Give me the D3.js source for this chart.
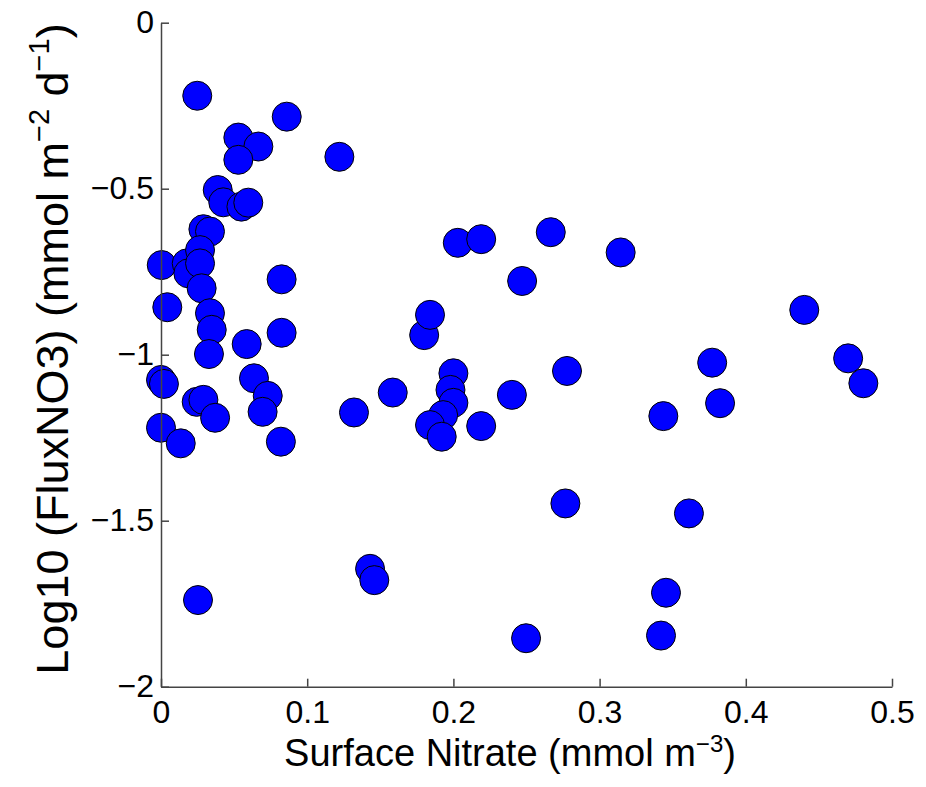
<!DOCTYPE html>
<html>
<head>
<meta charset="utf-8">
<script src="https://cdn.jsdelivr.net/npm/d3@7"></script>
<style>
  body { margin: 0; background: #fff; }
  text { font-family: "Liberation Sans", Arial, Helvetica, sans-serif; fill: #000; }
  .axis path, .axis line { stroke: #444; stroke-width: 1.5; }
</style>
</head>
<body>
<svg id="chart" width="926" height="787"></svg>
<script>
// surface nitrate (mmol m^-3) and log10 nitrate flux
const nitrate = [
  0.0248, 0.086, 0.0529, 0.0666, 0.0529, 0.122, 0.0388, 0.0426, 0.055, 0.0597,
  0.029, 0.0335, 0.0005, 0.0176, 0.0187, 0.0267, 0.0267, 0.0278, 0.0043, 0.0335,
  0.0347, 0.0328, 0.0825, 0.0825, 0.0586, 0.0, 0.002, 0.0244, 0.029, 0.037,
  0.0636, 0.073, 0.0695, 0.082, 0.0, 0.0135, 0.0253, 0.132, 0.1585, 0.180,
  0.184, 0.200, 0.198, 0.200, 0.193, 0.184, 0.192, 0.219, 0.240, 0.203,
  0.219, 0.247, 0.2666, 0.3144, 0.2777, 0.2766, 0.143, 0.1459, 0.2497, 0.3611,
  0.3454, 0.342, 0.3436, 0.377, 0.3824, 0.440, 0.470, 0.4804
];
const logFlux = [
  -0.220, -0.283, -0.346, -0.373, -0.413, -0.404, -0.504, -0.541, -0.554, -0.542,
  -0.622, -0.629, -0.730, -0.725, -0.755, -0.685, -0.725, -0.800, -0.857, -0.875,
  -0.925, -0.998, -0.773, -0.934, -0.968, -1.076, -1.088, -1.142, -1.136, -1.190,
  -1.071, -1.124, -1.172, -1.262, -1.220, -1.267, -1.739, -1.174, -1.114, -0.941,
  -0.880, -1.056, -1.106, -1.145, -1.182, -1.212, -1.247, -1.215, -1.121, -0.663,
  -0.652, -0.778, -0.631, -0.692, -1.049, -1.448, -1.645, -1.679, -1.854, -1.478,
  -1.717, -1.846, -1.185, -1.024, -1.146, -0.865, -1.011, -1.086
];
const xTicks = [0, 0.1, 0.2, 0.3, 0.4, 0.5];
const yTicks = [0, -0.5, -1, -1.5, -2];

const svg = d3.select("#chart");

const x = d3.scaleLinear().domain([0, 0.5]).range([161, 892]);
const y = d3.scaleLinear().domain([-2, 0]).range([686.7, 22.7]);

const fmt = d3.format("");

// points first, axes drawn over them like matlab
svg.append("g")
  .selectAll("circle")
  .data(nitrate.map((v, i) => [v, logFlux[i]]))
  .join("circle")
  .attr("cx", d => x(d[0]))
  .attr("cy", d => y(d[1]))
  .attr("r", 14.5)
  .attr("fill", "#0000ff")
  .attr("stroke", "#000")
  .attr("stroke-width", 1);

svg.append("g")
  .attr("class", "axis")
  .attr("transform", `translate(0,${y(-2)})`)
  .call(d3.axisBottom(x).tickValues(xTicks).tickFormat(fmt)
    .tickSizeInner(-8).tickSizeOuter(0).tickPadding(14));

svg.append("g")
  .attr("class", "axis")
  .attr("transform", `translate(${x(0)},0)`)
  .call(d3.axisLeft(y).tickValues(yTicks).tickFormat(fmt)
    .tickSizeInner(-8).tickSizeOuter(0).tickPadding(7));

svg.selectAll(".axis text")
  .attr("font-size", 32)
  .attr("font-family", "Liberation Sans, Arial, sans-serif")
  .attr("fill", "#000");

// x label
const xl = svg.append("text")
  .attr("x", 510)
  .attr("y", 766)
  .attr("text-anchor", "middle")
  .attr("font-size", 38);
xl.append("tspan").text("Surface Nitrate (mmol m");
xl.append("tspan").attr("font-size", 24).attr("dy", -14).text("−3");
xl.append("tspan").attr("dy", 14).text(")");

// y label
const yl = svg.append("text")
  .attr("transform", "translate(68,349) rotate(-90)")
  .attr("text-anchor", "middle")
  .attr("font-size", 45);
yl.append("tspan").text("Log10 (FluxNO3) (mmol m");
yl.append("tspan").attr("font-size", 29).attr("dy", -19).text("−2");
yl.append("tspan").attr("dy", 19).text(" d");
yl.append("tspan").attr("font-size", 29).attr("dy", -19).text("−1");
yl.append("tspan").attr("dy", 19).text(")");
</script>
</body>
</html>
